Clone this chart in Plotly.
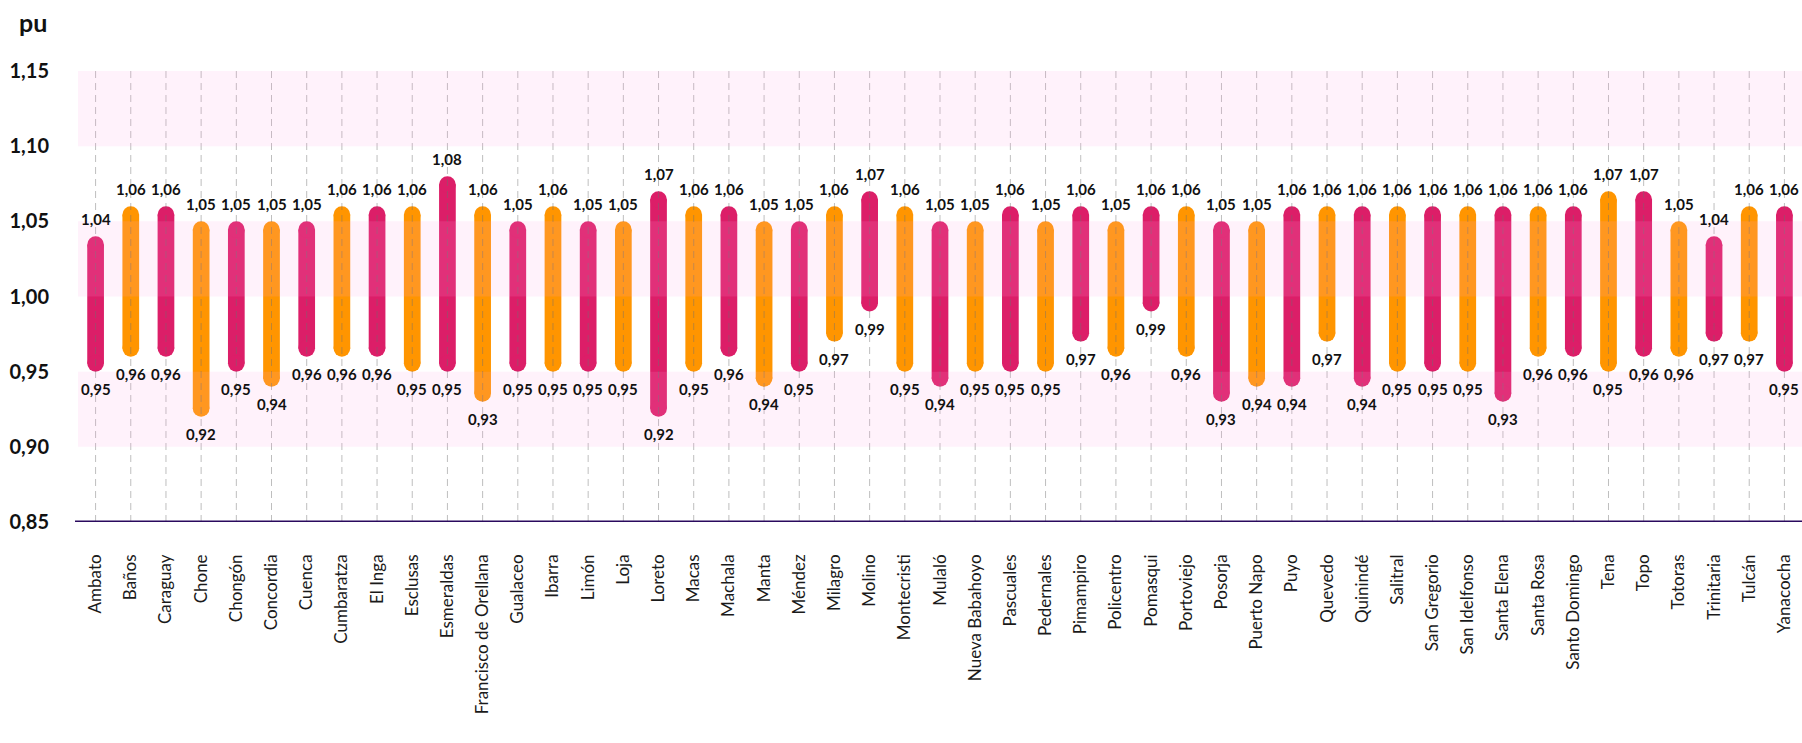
import plotly.graph_objects as go

stations = ["Ambato", "Baños", "Caraguay", "Chone", "Chongón", "Concordia", "Cuenca", "Cumbaratza",
            "El Inga", "Esclusas", "Esmeraldas", "Francisco de Orellana", "Gualaceo", "Ibarra", "Limón",
            "Loja", "Loreto", "Macas", "Machala", "Manta", "Méndez", "Milagro", "Molino", "Montecristi",
            "Mulaló", "Nueva Babahoyo", "Pascuales", "Pedernales", "Pimampiro", "Policentro", "Pomasqui",
            "Portoviejo", "Posorja", "Puerto Napo", "Puyo", "Quevedo", "Quinindé", "Salitral",
            "San Gregorio", "San Idelfonso", "Santa Elena", "Santa Rosa", "Santo Domingo", "Tena", "Topo",
            "Totoras", "Trinitaria", "Tulcán", "Yanacocha"]

v_max = [1.04, 1.06, 1.06, 1.05, 1.05, 1.05, 1.05, 1.06, 1.06, 1.06, 1.08, 1.06, 1.05, 1.06, 1.05,
         1.05, 1.07, 1.06, 1.06, 1.05, 1.05, 1.06, 1.07, 1.06, 1.05, 1.05, 1.06, 1.05, 1.06, 1.05,
         1.06, 1.06, 1.05, 1.05, 1.06, 1.06, 1.06, 1.06, 1.06, 1.06, 1.06, 1.06, 1.06, 1.07, 1.07,
         1.05, 1.04, 1.06, 1.06]

v_min = [0.95, 0.96, 0.96, 0.92, 0.95, 0.94, 0.96, 0.96, 0.96, 0.95, 0.95, 0.93, 0.95, 0.95, 0.95,
         0.95, 0.92, 0.95, 0.96, 0.94, 0.95, 0.97, 0.99, 0.95, 0.94, 0.95, 0.95, 0.95, 0.97, 0.96,
         0.99, 0.96, 0.93, 0.94, 0.94, 0.97, 0.94, 0.95, 0.95, 0.95, 0.93, 0.96, 0.96, 0.95, 0.96,
         0.96, 0.97, 0.97, 0.95]

y_ticks = [0.85, 0.90, 0.95, 1.00, 1.05, 1.10, 1.15]
bands = [(0.90, 0.95), (1.00, 1.05), (1.10, 1.15)]

MAGENTA = "#DC1E68"
ORANGE = "#FF9500"
colors = [MAGENTA if i % 2 == 0 else ORANGE for i in range(len(stations))]

# geometry for the rounded caps (pixel -> data units)
W, H = 1802, 743
M_L, M_R, M_T, M_B = 78, 0, 71, 221
plot_h = H - M_T - M_B
plot_w = W - M_L - M_R
bar_w_cat = 0.475
bar_px = bar_w_cat * plot_w / len(stations)
r_data = (bar_px / 2) * (y_ticks[-1] - y_ticks[0]) / plot_h
lo_c = [b + r_data for b in v_min]
hi_c = [a - r_data for a in v_max]

fig = go.Figure()
fig.add_trace(go.Bar(x=stations, y=[h - l for h, l in zip(hi_c, lo_c)], base=lo_c,
                     marker=dict(color=colors, line=dict(width=0)),
                     width=bar_w_cat, hoverinfo="skip", showlegend=False))
fig.add_trace(go.Scatter(x=stations + stations, y=hi_c + lo_c, mode="markers",
                         marker=dict(color=colors + colors, size=bar_px, line=dict(width=0)),
                         hoverinfo="skip", showlegend=False))

# dashed guide lines above bars
gx, gy = [], []
for s in stations:
    gx += [s, s, None]
    gy += [y_ticks[0], y_ticks[-1], None]
fig.add_trace(go.Scatter(x=gx, y=gy, mode="lines",
                         line=dict(color="rgba(110,110,110,0.45)", width=1, dash="7px,5px"),
                         hoverinfo="skip", showlegend=False))

for y0, y1 in bands:
    fig.add_shape(type="rect", xref="paper", yref="y", x0=0, x1=1, y0=y0, y1=y1,
                  fillcolor="rgb(255,160,230)", opacity=0.14, line=dict(width=0), layer="above")

fig.add_shape(type="line", xref="paper", yref="y", x0=-3 / plot_w, x1=1, y0=y_ticks[0], y1=y_ticks[0],
              line=dict(color="#2A0A5E", width=3), layer="above")

lab_font = dict(family="Lato", size=15, color="#111111", weight="bold")
for s, a, b in zip(stations, v_max, v_min):
    fig.add_annotation(x=s, y=a, text=f"{a:.2f}".replace(".", ","), showarrow=False,
                       yanchor="middle", yshift=17, font=lab_font)
    fig.add_annotation(x=s, y=b, text=f"{b:.2f}".replace(".", ","), showarrow=False,
                       yanchor="middle", yshift=-17, font=lab_font)

fig.add_annotation(xref="paper", yref="paper", x=-61 / plot_w, y=1 + 49 / plot_h, xanchor="left",
                   yanchor="middle", text="pu", showarrow=False,
                   font=dict(family="Lato", size=25, color="#111111", weight="bold"))

fig.update_layout(
    width=W, height=H,
    margin=dict(l=M_L, r=M_R, t=M_T, b=M_B),
    paper_bgcolor="white", plot_bgcolor="white",
    barmode="overlay", separators=",.",
    xaxis=dict(type="category", range=[-0.5, len(stations) - 0.5],
               showgrid=False, zeroline=False, showline=False, ticks="",
               tickangle=-90, ticklabelstandoff=28,
               tickfont=dict(family="Lato", size=17, color="#1a1a1a")),
    yaxis=dict(range=[y_ticks[0], y_ticks[-1]], tickvals=y_ticks, tickformat=".2f",
               showgrid=False, zeroline=False, showline=False, ticks="", ticklabelstandoff=28,
               tickfont=dict(family="Lato", size=20, color="#111111", weight="bold")),
)

fig.write_html("out.html", config={"displayModeBar": False},
               post_script="document.body.style.margin='0';")
